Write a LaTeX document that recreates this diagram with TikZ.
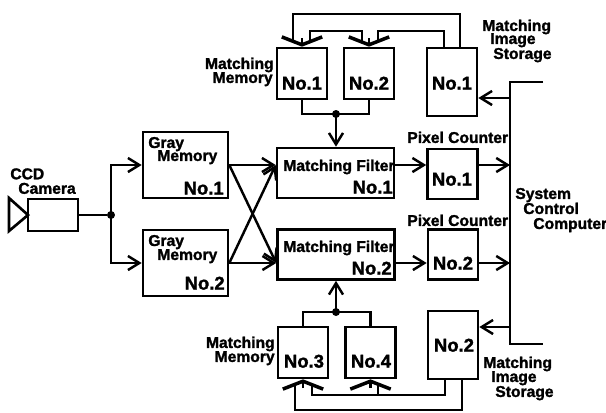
\documentclass[tikz,border=0pt]{standalone}
\usepackage{fontspec}
\setmainfont{Liberation Sans}[BoldFeatures={FakeBold=1.6}]
\usetikzlibrary{arrows.meta}
\tikzset{
  wire/.style={line width=1.4pt,line join=miter},
  arr/.style={wire,-{Straight Barb[length=6.5pt,width=8pt,line width=1.4pt]}},
  vee/.style={wire,-{Straight Barb[length=4.5pt,width=23pt,line width=2pt]}},
  box/.style={draw,line width=1.5pt,inner sep=0pt},
  membox/.style={box,minimum width=1cm,minimum height=1.02cm},
  stobox/.style={box,minimum width=1cm,minimum height=1.36cm},
  pixbox/.style={box,minimum width=1cm,minimum height=1cm},
  filtbox/.style={box,minimum width=2.34cm,minimum height=1cm},
  graybox/.style={box,minimum width=1.7cm,minimum height=1.32cm},
  lbl/.style={font=\bfseries\fontsize{8.9}{9}\selectfont,inner sep=0pt,anchor=west,text height=6.5pt,text depth=2pt},
  rlbl/.style={lbl,anchor=east},
  tight/.style={lbl,text height=6pt,text depth=0pt},
  num/.style={font=\bfseries\fontsize{10.5}{11}\selectfont,inner sep=0pt,text height=7.5pt,text depth=0pt},
  dot/.style={circle,fill=black,inner sep=0pt,minimum size=.16cm}
}
\begin{document}
\begin{tikzpicture}[x=.02cm,y=-.02cm]
\useasboundingbox (0,0) rectangle (606,413);
\node[box,minimum width=1cm,minimum height=.64cm] (cam) at (53,215) {};
\draw[box] (28,215) -- (9,198) -- (9,231) -- cycle;
\node[tight] (ccd) at (10,174) {CCD};
\node[tight] (camtxt) at (18,188.5) {Camera};
\node[dot] (jcam) at (111,215) {};
\node[graybox] (graya) at (185.5,165) {};
\node[graybox] (grayb) at (185.5,263) {};
\node[lbl] (grayatxt) at (148,144) {Gray};
\node[lbl] (grayamem) at (157,157) {Memory};
\node[num,anchor=east] (grayano) at (224,188) {No.1};
\node[lbl] (graybtxt) at (148,242) {Gray};
\node[lbl] (graybmem) at (157,256) {Memory};
\node[num,anchor=east] (graybno) at (225,283) {No.2};
\node[filtbox] (filta) at (335.5,173) {};
\node[filtbox] (filtb) at (336,254.5) {};
\node[lbl] (filtatxt) at (283,167) {Matching Filter};
\node[num,anchor=east] (filtano) at (393,187) {No.1};
\node[lbl] (filtbtxt) at (283,248) {Matching Filter};
\node[num,anchor=east] (filtbno) at (392,268) {No.2};
\node[membox] (mema) at (302,73.5) {};
\node[membox] (memb) at (369,73.5) {};
\node[membox] (memc) at (303,352.5) {};
\node[membox] (memd) at (370.5,352.5) {};
\node[num] (memano) at (302,83) {No.1};
\node[num] (membno) at (369,83) {No.2};
\node[num] (memcno) at (304,361) {No.3};
\node[num] (memdno) at (371,361) {No.4};
\node[rlbl] (mematxt) at (274,65) {Matching};
\node[rlbl] (memamem) at (273,79) {Memory};
\node[rlbl] (memctxt) at (275,344) {Matching};
\node[rlbl] (memcmem) at (275,358) {Memory};
\node[stobox] (stoa) at (452,82) {};
\node[stobox] (stob) at (453,345) {};
\node[num] (stoano) at (452,83) {No.1};
\node[num] (stobno) at (454,345) {No.2};
\node[lbl] (stoatxt) at (482,27) {Matching};
\node[lbl] (stoaimg) at (490,40) {Image};
\node[lbl] (stoasto) at (493,55) {Storage};
\node[lbl] (stobtxt) at (483,364) {Matching};
\node[lbl] (stobimg) at (491,378) {Image};
\node[lbl] (stobsto) at (495,393) {Storage};
\node[pixbox] (pixa) at (452.5,174) {};
\node[pixbox] (pixb) at (453,254.5) {};
\node[num] (pixano) at (452,179) {No.1};
\node[num] (pixbno) at (453,263) {No.2};
\node[lbl] (pixatxt) at (407,139) {Pixel Counter};
\node[lbl] (pixbtxt) at (407,222) {Pixel Counter};
\node[lbl] (systxt) at (515,195) {System};
\node[lbl] (sysctl) at (523,210) {Control};
\node[lbl] (syscmp) at (533,225) {Computer};
\coordinate (bust) at (510,82);
\coordinate (busb) at (510,344);
\coordinate (bustr) at (543,82);
\coordinate (busbr) at (543,344);
\coordinate (ya) at (0,98);
\coordinate (yb) at (0,327);
\coordinate (ha) at (0,14);
\coordinate (hb) at (0,31);
\coordinate (hc) at (0,395);
\coordinate (hd) at (0,410);
\coordinate (ja) at (336,114);
\coordinate (jb) at (336,312);
\coordinate (ka) at (293,43);
\coordinate (kb) at (310,43);
\coordinate (kc) at (362,43);
\coordinate (kd) at (378,43);
\coordinate (ke) at (295,383);
\coordinate (kf) at (312,383);
\coordinate (kh) at (378,383);
\draw[wire] (cam) -- (jcam);
\draw[arr] (jcam.center) -- (jcam.center |- graya) -- (graya.west);
\draw[arr] (jcam.center) -- (jcam.center |- grayb) -- (grayb.west);
\draw[arr] (graya.east) -- (filta.west |- graya);
\draw[arr] (grayb.east) -- (filtb.west |- grayb);
\draw[arr] (graya.east) -- (filtb.west |- grayb);
\draw[arr] (grayb.east) -- (filta.west |- graya);
\draw[arr] (filta.east |- graya) -- (pixa.west |- graya);
\draw[arr] (filtb.east |- grayb) -- (pixb.west |- grayb);
\draw[arr] (pixa.east |- graya) -- (bust |- graya);
\draw[arr] (pixb.east |- grayb) -- (bust |- grayb);
\draw[wire] (bustr) -- (bust) -- (busb) -- (busbr);
\draw[arr] (bust |- ya) -- (stoa.east |- ya);
\draw[arr] (bust |- yb) -- (stob.east |- yb);
\draw[wire] (mema.south) -- (mema.south |- ja) -- (memb.south |- ja) -- (memb.south);
\draw[wire] (memc.north) -- (memc.north |- jb) -- (memd.north |- jb) -- (memd.north);
\node[dot] (joa) at (ja) {};
\node[dot] (job) at (jb) {};
\draw[arr] (joa.center) -- (filta.north -| joa);
\draw[arr] (job.center) -- (filtb.south -| job);
\draw[vee] (mema.north |- 0,38) -- (mema.north);
\draw[vee] (memb.north |- 0,38) -- (memb.north);
\draw[vee] (memc.south |- 0,388) -- (memc.south);
\draw[vee] (memd.south |- 0,388) -- (memd.south);
\draw[wire] (stoa.north -| 460,0) -- (ha -| 460,0) -- (ha -| ka) -- (ka);
\draw[wire] (stoa.north -| 444,0) -- (hb -| 444,0) -- (hb -| kd) -- (kd);
\draw[wire] (kb) -- (hb -| kb) -- (hb -| kc) -- (kc);
\draw[wire] (stob.south -| 462,0) -- (hd -| 462,0) -- (hd -| ke) -- (ke);
\draw[wire] (stob.south -| 445,0) -- (hc -| 445,0) -- (hc -| kf) -- (kf);
\draw[wire] (hc -| kh) -- (kh);
\end{tikzpicture}
\end{document}
